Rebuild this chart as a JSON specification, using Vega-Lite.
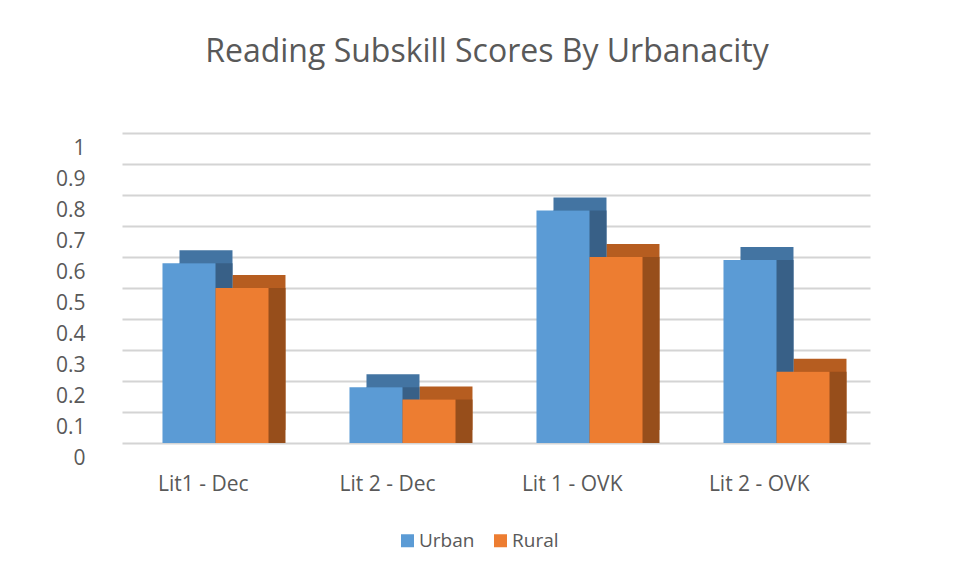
{
  "$schema": "https://vega.github.io/schema/vega-lite/v6.json",
  "width": 748,
  "height": 310,
  "autosize": {"type": "none"},
  "padding": {"left": 122, "top": 133, "right": 86, "bottom": 136},
  "background": "white",
  "config": {
    "view": {"stroke": null},
    "font": "Open Sans"
  },
  "title": {
    "text": "Reading Subskill Scores By Urbanacity",
    "font": "Open Sans",
    "fontSize": 32,
    "fontWeight": "normal",
    "color": "#595959",
    "anchor": "middle",
    "dx": -9,
    "offset": 64
  },
  "data": {
    "values": [
      {"category": "Lit1 - Dec", "area": "Urban", "score": 0.58},
      {"category": "Lit1 - Dec", "area": "Rural", "score": 0.50},
      {"category": "Lit 2 - Dec", "area": "Urban", "score": 0.18},
      {"category": "Lit 2 - Dec", "area": "Rural", "score": 0.14},
      {"category": "Lit 1 - OVK", "area": "Urban", "score": 0.75},
      {"category": "Lit 1 - OVK", "area": "Rural", "score": 0.60},
      {"category": "Lit 2 - OVK", "area": "Urban", "score": 0.59},
      {"category": "Lit 2 - OVK", "area": "Rural", "score": 0.23}
    ]
  },
  "resolve": {"scale": {"y": "independent", "xOffset": "independent", "color": "independent"}},
  "layer": [
    {
      "mark": {"type": "bar"},
      "encoding": {
        "x": {"field": "category", "type": "nominal",
              "scale": {"domain": ["Lit1 - Dec", "Lit 2 - Dec", "Lit 1 - OVK", "Lit 2 - OVK"], "paddingInner": 0.433, "paddingOuter": 0.2165}},
        "xOffset": {"field": "area", "type": "nominal", "scale": {"domain": ["Urban", "Rural"], "range": [17, 123]}},
        "y": {"field": "score", "type": "quantitative", "scale": {"domain": [0, 1], "range": [297, -13]}, "axis": null},
        "color": {"field": "area", "type": "nominal", "scale": {"domain": ["Urban", "Rural"], "range": ["#4374a2", "#b65d20"]}, "legend": null}
      }
    },
    {
      "mark": {"type": "bar"},
      "encoding": {
        "x": {"field": "category", "type": "nominal",
              "scale": {"domain": ["Lit1 - Dec", "Lit 2 - Dec", "Lit 1 - OVK", "Lit 2 - OVK"], "paddingInner": 0.433, "paddingOuter": 0.2165}},
        "xOffset": {"field": "area", "type": "nominal", "scale": {"domain": ["Urban", "Rural"], "range": [17, 123]}},
        "y": {"field": "score", "type": "quantitative", "scale": {"domain": [0, 1]}, "axis": null},
        "color": {"field": "area", "type": "nominal", "scale": {"domain": ["Urban", "Rural"], "range": ["#386087", "#974e1b"]}, "legend": null}
      }
    },
    {
      "mark": {"type": "bar"},
      "encoding": {
        "x": {"field": "category", "type": "nominal",
              "scale": {"domain": ["Lit1 - Dec", "Lit 2 - Dec", "Lit 1 - OVK", "Lit 2 - OVK"], "paddingInner": 0.433, "paddingOuter": 0.2165},
              "axis": {"title": null, "domain": false, "ticks": false, "labelAngle": 0, "labelPadding": 41, "labelOffset": 33,
                       "labelFont": "Open Sans", "labelFontSize": 21, "labelColor": "#595959", "grid": false}},
        "xOffset": {"field": "area", "type": "nominal", "scale": {"domain": ["Urban", "Rural"]}},
        "y": {"field": "score", "type": "quantitative", "scale": {"domain": [0, 1]},
              "axis": {"title": null, "domain": false, "ticks": false, "values": [0, 0.1, 0.2, 0.3, 0.4, 0.5, 0.6, 0.7, 0.8, 0.9, 1],
                       "format": ".1~f", "labelPadding": 37, "labelOffset": 15, "labelFont": "Open Sans", "labelFontSize": 21,
                       "labelColor": "#595959", "grid": true, "gridColor": "#d4d4d4", "gridWidth": 2}},
        "color": {"field": "area", "type": "nominal", "scale": {"domain": ["Urban", "Rural"], "range": ["#5b9bd5", "#ed7d31"]},
                  "legend": {"title": null, "orient": "none", "legendX": 276, "legendY": 398, "direction": "horizontal",
                             "symbolType": "square", "symbolSize": 169, "symbolStrokeWidth": 0, "labelFont": "Open Sans", "labelFontSize": 19,
                             "labelColor": "#595959", "labelOffset": 2, "columnPadding": 16, "padding": 0}}
      }
    }
  ]
}
